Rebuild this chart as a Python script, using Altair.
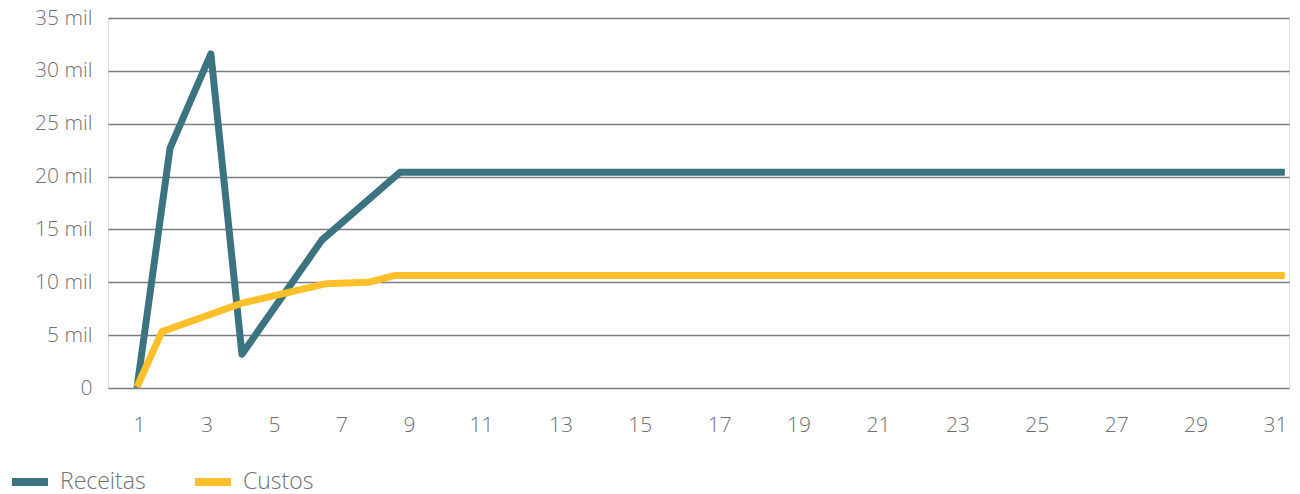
import altair as alt
import pandas as pd

# Data (x = day position on the axis, y = value)
receitas_x = [0.94, 1.92, 3.13, 4.05, 6.42, 8.73, 31.25]
receitas_y = [0, 22700, 31600, 3200, 14000, 20400, 20400]
custos_x = [0.94, 1.68, 4.02, 6.52, 7.79, 8.59, 31.25]
custos_y = [100, 5330, 8000, 9850, 10000, 10650, 10650]
series_names = ["Receitas", "Custos"]
series_colors = ["#3b7480", "#fec02a"]
x_ticks = list(range(1, 32, 2))
y_ticks = [0, 5000, 10000, 15000, 20000, 25000, 30000, 35000]

df_r = pd.DataFrame({"dia": receitas_x, "valor": receitas_y, "serie": "Receitas"})
df_c = pd.DataFrame({"dia": custos_x, "valor": custos_y, "serie": "Custos"})

FONT = "Open Sans"
TXT = "#6f7073"

x_enc = alt.X(
    "dia:Q",
    scale=alt.Scale(
        domain=[0.0815, 1, 9, 11, 31, 31.356],
        range=[0, 31, 301, 373, 1167, 1181],
        nice=False, zero=False,
    ),
    axis=alt.Axis(
        values=x_ticks, title=None, grid=False, domain=False, ticks=False,
        labelPadding=26, labelFontSize=21, labelFont=FONT, labelFontWeight=300,
        labelColor=TXT, labelFlush=False,
    ),
)
y_enc = alt.Y(
    "valor:Q",
    scale=alt.Scale(domain=[0, 35000], nice=False),
    axis=alt.Axis(
        values=y_ticks, title=None, domain=False, ticks=False,
        labelExpr="datum.value == 0 ? '0' : (datum.value / 1000) + ' mil'",
        labelPadding=16, labelFontSize=21, labelFont=FONT, labelFontWeight=300,
        labelColor=TXT, gridColor="#7a7c7f", gridWidth=1.5,
    ),
)
color_enc = alt.Color(
    "serie:N",
    scale=alt.Scale(domain=series_names, range=series_colors),
    legend=alt.Legend(
        title=None, orient="none", legendX=-100, legendY=442, direction="horizontal",
        symbolType="stroke", symbolSize=1296, symbolStrokeWidth=8,
        labelFontSize=23, labelFont=FONT, labelFontWeight=300, labelColor=TXT,
        labelOffset=8, columnPadding=33,
    ),
)

line_r = alt.Chart(df_r).mark_line(strokeWidth=7, strokeJoin="round", strokeCap="butt").encode(
    x=x_enc, y=y_enc, color=color_enc
)
line_c = alt.Chart(df_c).mark_line(strokeWidth=7, strokeJoin="round", strokeCap="butt").encode(
    x=x_enc, y=y_enc, color=color_enc
)

chart = (
    alt.layer(line_r, line_c)
    .properties(
        width=1181, height=370,
        autosize=alt.AutoSizeParams(type="none"),
        padding={"left": 108, "top": 18, "right": 11, "bottom": 106},
    )
    .configure_view(strokeWidth=0, stroke="transparent")
    .configure(background="white")
)

chart.save("out.html", embed_options={"renderer": "svg", "actions": False})
